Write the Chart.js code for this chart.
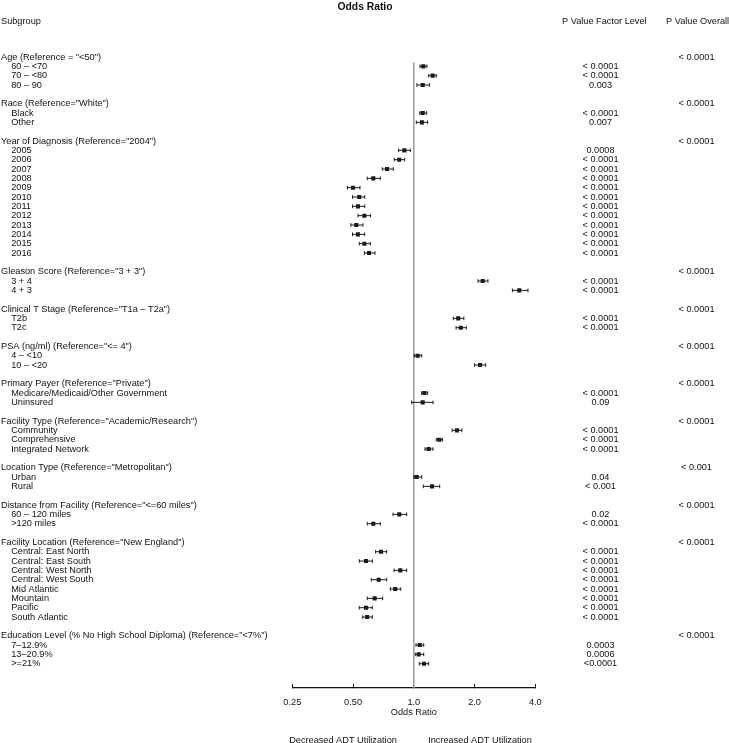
<!DOCTYPE html>
<html lang="en">
<head>
    <meta charset="UTF-8">
    <title>Odds Ratio</title>
    <script src="https://cdn.jsdelivr.net/npm/chart.js"></script>
    <style>
        body {
            margin: 0;
            padding: 0;
            background-color: #fff;
        }
        canvas {
            display: block;
        }
    </style>
</head>
<body>
    <canvas id="forestChart" width="729" height="743"></canvas>
    <script>
        // one entry per row of the plot ('' = spacer row)
        const subgroupLabels = [
            'Age (Reference = "<50")', '    60 – <70', '    70 – <80', '    80 – 90', '',
            'Race (Reference="White")', '    Black', '    Other', '',
            'Year of Diagnosis (Reference="2004")', '    2005', '    2006', '    2007', '    2008', '    2009', '    2010',
            '    2011', '    2012', '    2013', '    2014', '    2015', '    2016', '',
            'Gleason Score (Reference="3 + 3")', '    3 + 4', '    4 + 3', '',
            'Clinical T Stage (Reference="T1a – T2a")', '    T2b', '    T2c', '',
            'PSA (ng/ml) (Reference="<= 4")', '    4 – <10', '    10 – <20', '',
            'Primary Payer (Reference="Private")', '    Medicare/Medicaid/Other Government', '    Uninsured', '',
            'Facility Type (Reference="Academic/Research")', '    Community', '    Comprehensive', '    Integrated Network', '',
            'Location Type (Reference="Metropolitan")', '    Urban', '    Rural', '',
            'Distance from Facility (Reference="<=60 miles")', '    60 – 120 miles', '    >120 miles', '',
            'Facility Location (Reference="New England")', '    Central: East North', '    Central: East South',
            '    Central: West North', '    Central: West South', '    Mid Atlantic', '    Mountain', '    Pacific', '    South Atlantic', '',
            'Education Level (% No High School Diploma) (Reference="<7%")', '    7–12.9%', '    13–20.9%', '    >=21%'
        ];

        const oddsRatio = [
            null, 1.115, 1.24, 1.107, null,
            null, 1.107, 1.098, null,
            null, 0.898, 0.847, 0.737, 0.63, 0.50, 0.537, 0.529, 0.569, 0.519, 0.529, 0.569, 0.60, null,
            null, 2.195, 3.33, null,
            null, 1.66, 1.71, null,
            null, 1.045, 2.13, null,
            null, 1.128, 1.107, null,
            null, 1.637, 1.338, 1.185, null,
            null, 1.033, 1.231, null,
            null, 0.847, 0.63, null,
            null, 0.688, 0.58, 0.857, 0.67, 0.809, 0.64, 0.58, 0.588, null,
            null, 1.07, 1.057, 1.124
        ];

        const ciLow = [
            null, 1.073, 1.185, 1.037, null,
            null, 1.07, 1.029, null,
            null, 0.841, 0.80, 0.698, 0.588, 0.469, 0.497, 0.497, 0.529, 0.488, 0.497, 0.537, 0.569, null,
            null, 2.08, 3.08, null,
            null, 1.57, 1.62, null,
            null, 1.006, 2.0, null,
            null, 1.094, 0.976, null,
            null, 1.55, 1.293, 1.136, null,
            null, 1.0, 1.115, null,
            null, 0.789, 0.588, null,
            null, 0.647, 0.537, 0.798, 0.616, 0.765, 0.588, 0.537, 0.558, null,
            null, 1.025, 1.017, 1.065
        ];

        const ciHigh = [
            null, 1.162, 1.293, 1.198, null,
            null, 1.158, 1.171, null,
            null, 0.961, 0.901, 0.792, 0.682, 0.541, 0.571, 0.571, 0.611, 0.56, 0.571, 0.609, 0.642, null,
            null, 2.33, 3.68, null,
            null, 1.77, 1.82, null,
            null, 1.094, 2.27, null,
            null, 1.171, 1.245, null,
            null, 1.73, 1.39, 1.245, null,
            null, 1.094, 1.344, null,
            null, 0.922, 0.682, null,
            null, 0.734, 0.623, 0.922, 0.734, 0.861, 0.701, 0.623, 0.623, null,
            null, 1.12, 1.12, 1.185
        ];

        const pFactor = [
            '', '< 0.0001', '< 0.0001', '0.003', '',
            '', '< 0.0001', '0.007', '',
            '', '0.0008', '< 0.0001', '< 0.0001', '< 0.0001', '< 0.0001', '< 0.0001',
            '< 0.0001', '< 0.0001', '< 0.0001', '< 0.0001', '< 0.0001', '< 0.0001', '',
            '', '< 0.0001', '< 0.0001', '',
            '', '< 0.0001', '< 0.0001', '',
            '', '', '', '',
            '', '< 0.0001', '0.09', '',
            '', '< 0.0001', '< 0.0001', '< 0.0001', '',
            '', '0.04', '< 0.001', '',
            '', '0.02', '< 0.0001', '',
            '', '< 0.0001', '< 0.0001', '< 0.0001', '< 0.0001', '< 0.0001', '< 0.0001', '< 0.0001', '< 0.0001', '',
            '', '0.0003', '0.0006', '<0.0001'
        ];

        const pOverall = [
            '< 0.0001', '', '', '', '',
            '< 0.0001', '', '', '',
            '< 0.0001', '', '', '', '', '', '', '', '', '', '', '', '', '',
            '< 0.0001', '', '', '',
            '< 0.0001', '', '', '',
            '< 0.0001', '', '', '',
            '< 0.0001', '', '', '',
            '< 0.0001', '', '', '', '',
            '< 0.001', '', '', '',
            '< 0.0001', '', '', '',
            '< 0.0001', '', '', '', '', '', '', '', '', '',
            '< 0.0001', '', '', ''
        ];

        const xTickValues = [0.25, 0.5, 1, 2, 4];
        const xTickLabels = ['0.25', '0.50', '1.0', '2.0', '4.0'];

        const rows = subgroupLabels.map((_, i) => i);
        const dataRows = rows.filter(i => oddsRatio[i] !== null);

        Chart.defaults.font.family = '"Liberation Sans", Arial, Helvetica, sans-serif';
        Chart.defaults.font.size = 9.2;
        Chart.defaults.color = '#111';

        // column text: headers, p values and the notes under the axis
        const forestText = {
            id: 'forestText',
            afterDraw(chart) {
                const ctx = chart.ctx;
                const y = chart.scales.y;
                ctx.save();
                ctx.font = '9.2px "Liberation Sans", Arial, Helvetica, sans-serif';
                ctx.fillStyle = '#111';
                ctx.textBaseline = 'middle';
                ctx.textAlign = 'left';
                ctx.fillText('Subgroup', 1, 21);
                ctx.fillText('P Value Factor Level', 562, 21);
                ctx.fillText('P Value Overall', 666, 21);
                ctx.textAlign = 'center';
                rows.forEach(i => {
                    const py = y.getPixelForValue(i);
                    if (pFactor[i]) ctx.fillText(pFactor[i], 600.5, py);
                    if (pOverall[i]) ctx.fillText(pOverall[i], 696.5, py);
                });
                ctx.fillText('Decreased ADT Utilization', 343, 740);
                ctx.fillText('Increased ADT Utilization', 480, 740);
                ctx.restore();
            }
        };

        const ciSets = dataRows.map(i => ({
            data: [{x: ciLow[i], y: i}, {x: ciHigh[i], y: i}],
            showLine: true,
            borderColor: '#1a1a1a',
            borderWidth: 1,
            pointRadius: 0
        }));

        const ctx = document.getElementById('forestChart').getContext('2d');
        new Chart(ctx, {
            type: 'scatter',
            data: {
                datasets: [
                    {
                        // point estimates
                        data: dataRows.map(i => ({x: oddsRatio[i], y: i})),
                        pointStyle: 'rect',
                        pointRadius: 2.9,
                        backgroundColor: '#1a1a1a',
                        borderWidth: 0
                    },
                    {
                        // CI end caps
                        data: dataRows.flatMap(i => [{x: ciLow[i], y: i}, {x: ciHigh[i], y: i}]),
                        pointStyle: 'line',
                        rotation: 90,
                        pointRadius: 1.8,
                        borderColor: '#1a1a1a',
                        borderWidth: 1
                    },
                    ...ciSets,
                    {
                        // reference line at OR = 1
                        data: [{x: 1, y: 0.6}, {x: 1, y: 67.6}],
                        showLine: true,
                        borderColor: '#9b9b9b',
                        borderWidth: 1.5,
                        pointRadius: 0
                    }
                ]
            },
            options: {
                responsive: false,
                animation: false,
                devicePixelRatio: 1,
                layout: {
                    padding: {left: 1, right: 0, top: 0, bottom: 0}
                },
                plugins: {
                    legend: {display: false},
                    tooltip: {enabled: false},
                    title: {
                        display: true,
                        text: 'Odds Ratio',
                        color: '#111',
                        font: {size: 10.3, weight: 'bold'},
                        padding: {top: 0.5, bottom: 1.2}
                    }
                },
                scales: {
                    x: {
                        type: 'logarithmic',
                        position: 'bottom',
                        min: 0.25,
                        max: 4,
                        afterBuildTicks: axis => {
                            axis.ticks = xTickValues.map(v => ({value: v}));
                        },
                        afterFit: axis => {
                            axis.height = 55;
                        },
                        ticks: {
                            autoSkip: false,
                            maxRotation: 0,
                            padding: 13,
                            callback: (v, i) => xTickLabels[i]
                        },
                        grid: {
                            drawOnChartArea: false,
                            drawTicks: true,
                            tickLength: -4,
                            color: '#111',
                            lineWidth: 1
                        },
                        border: {display: true, color: '#111', width: 1.3},
                        title: {
                            display: true,
                            text: 'Odds Ratio',
                            color: '#111',
                            padding: {top: 0, bottom: 25}
                        }
                    },
                    y: {
                        type: 'linear',
                        position: 'left',
                        reverse: true,
                        min: -4.6,
                        max: 67.6,
                        afterBuildTicks: axis => {
                            axis.ticks = rows.filter(i => subgroupLabels[i]).map(i => ({value: i}));
                        },
                        afterFit: axis => {
                            axis.width = 291.3;
                        },
                        ticks: {
                            autoSkip: false,
                            crossAlign: 'far',
                            callback: v => subgroupLabels[v]
                        },
                        grid: {display: false},
                        border: {display: false}
                    },
                    yRight: {
                        axis: 'y',
                        position: 'right',
                        reverse: true,
                        min: -4.6,
                        max: 67.6,
                        afterFit: axis => {
                            axis.width = 193.7;
                        },
                        ticks: {display: false},
                        grid: {display: false},
                        border: {display: false}
                    }
                }
            },
            plugins: [forestText]
        });
    </script>
</body>
</html>
